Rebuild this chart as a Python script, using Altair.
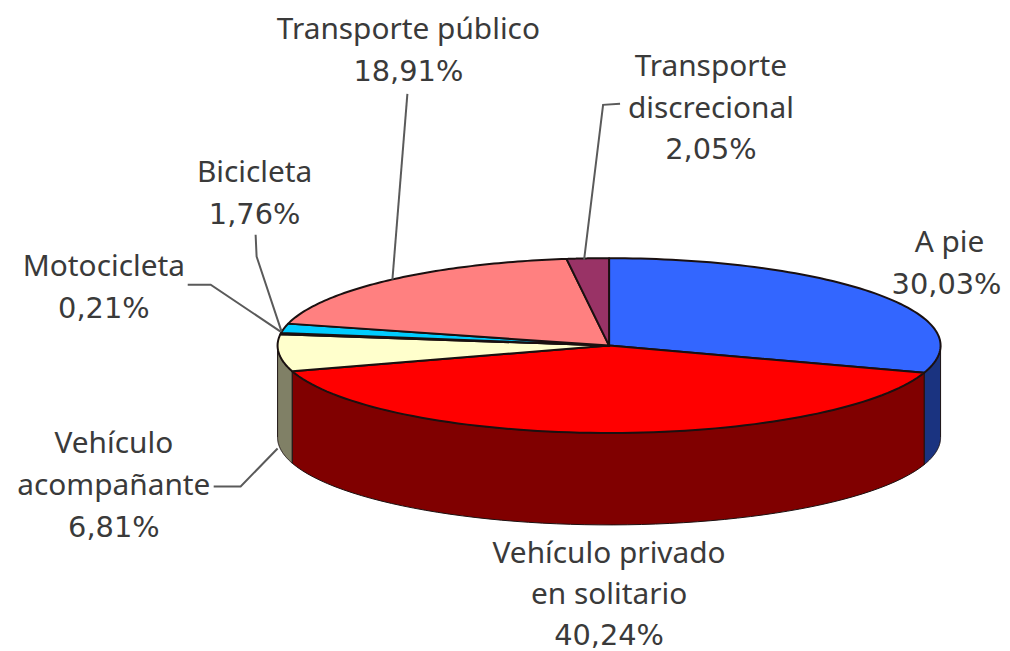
import numpy as np
import pandas as pd
import altair as alt

# Data
categories = ["A pie", "Vehículo privado en solitario", "Vehículo acompañante", "Motocicleta",
              "Bicicleta", "Transporte público", "Transporte discrecional"]
values = [30.03, 40.24, 6.81, 0.21, 1.76, 18.91, 2.05]
top_colors = ["#3366FF", "#FF0000", "#FFFFCC", "#CCCC99", "#00CCFF", "#FF8080", "#993366"]
side_colors = ["#1A3380", "#800000", "#808066", "#666650", "#006680", "#804040", "#4D1A33"]

# Projection of the pie (picture pixels)
CX, CY, RX, RY, DEPTH = 609, 344, 332, 87.5, 92
W, H = 1000, 640
OX, OY = 8, 8

# Labels: name lines and percentage lines, centre x, centre y
name_lines = [
    ("A pie", 950, 241),
    ("Vehículo privado", 609, 553), ("en solitario", 609, 594),
    ("Vehículo", 113, 443), ("acompañante", 113, 485),
    ("Motocicleta", 103, 265),
    ("Bicicleta", 254, 171),
    ("Transporte público", 408, 28),
    ("Transporte", 711, 65), ("discrecional", 711, 107),
]
pct_lines = [
    ("30,03%", 947, 283), ("40,24%", 609, 635), ("6,81%", 113, 527), ("0,21%", 103, 307),
    ("1,76%", 254, 213), ("18,91%", 408, 70), ("2,05%", 711, 148),
]
leaders = [
    [(407, 92), (392, 278)],
    [(620, 102), (603, 103), (584, 258)],
    [(255, 233), (256, 255), (281, 330)],
    [(187, 283), (210, 283), (280, 330)],
    [(213, 485), (240, 485), (277, 447)],
]


def rim(a):
    return CX + RX * np.sin(a), CY - RY * np.cos(a)


edges = np.radians(np.concatenate([[0], np.cumsum(values)]) / sum(values) * 360)
polys = []  # (points, fill, stroke width)
for i in range(len(values)):
    lo, hi = max(edges[i], np.pi / 2), min(edges[i + 1], 3 * np.pi / 2)
    if hi > lo:
        t = np.linspace(lo, hi, 60)
        x, y = rim(t)
        polys.append((list(zip(x, y)) + list(zip(x[::-1], y[::-1] + DEPTH)), side_colors[i], 1))
for i in range(len(values)):
    t = np.linspace(edges[i], edges[i + 1], 80)
    x, y = rim(t)
    polys.append(([(CX, CY)] + list(zip(x, y)), top_colors[i], 2))

X = alt.Scale(domain=[OX, OX + W], range=[1, 1005.5], nice=False, zero=False)
Y = alt.Scale(domain=[OY, OY + H], range=[0, H * 1.005], nice=False, zero=False)
xe = alt.X("x:Q", scale=X, axis=None)
ye = alt.Y("y:Q", scale=Y, axis=None)

layers = []
for pts, col, sw in polys:
    df = pd.DataFrame(pts, columns=["x", "y"]).assign(o=lambda d: range(len(d)))
    layers.append(
        alt.Chart(df).mark_line(fill=col, stroke="#1a1010", strokeWidth=sw,
                                interpolate="linear-closed", strokeJoin="round")
        .encode(x=xe, y=ye, order="o:Q")
    )
for pts in leaders:
    df = pd.DataFrame(pts, columns=["x", "y"]).assign(o=lambda d: range(len(d)))
    layers.append(
        alt.Chart(df).mark_line(stroke="#5a5a5a", strokeWidth=2).encode(x=xe, y=ye, order="o:Q")
    )
names = pd.DataFrame(name_lines, columns=["t", "x", "y"])
pcts = pd.DataFrame(pct_lines, columns=["t", "x", "y"])
layers.append(
    alt.Chart(names).mark_text(font="Noto Sans", fontSize=30, color="#3a3a3a", align="center", baseline="middle")
    .encode(x=xe, y=ye, text="t:N")
)
layers.append(
    alt.Chart(pcts).mark_text(font="DejaVu Sans", fontSize=29, color="#3a3a3a", align="center", baseline="middle")
    .encode(x=xe, y=ye, text="t:N")
)

chart = (
    alt.layer(*layers)
    .properties(width=W, height=H, padding=0, background="white")
    .configure_view(stroke=None)
)
chart.save("out.html", embed_options={"renderer": "svg", "actions": False})
